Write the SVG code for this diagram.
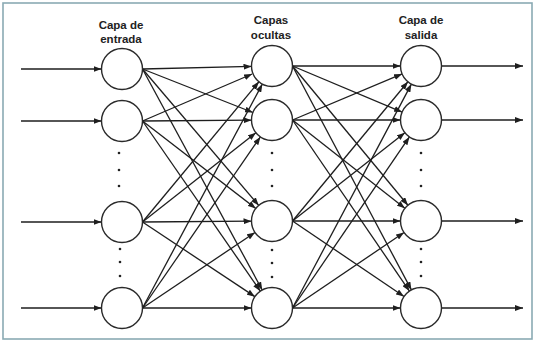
<svg xmlns="http://www.w3.org/2000/svg" width="535" height="343" viewBox="0 0 535 343">
<style>
.frame{fill:#ffffff;stroke:#8aaab3;stroke-width:1.6}
.node{fill:#ffffff;stroke:#2a2a2a;stroke-width:1.4}
.edge{fill:none;stroke:#1e1e1e;stroke-width:1.3;marker-end:url(#arr)}
.lbl{font-family:"Liberation Sans",Arial,sans-serif;font-weight:bold;font-size:11.5px;fill:#222;text-anchor:middle}
.dot{fill:#222}
</style>
<defs>
<marker id="arr" markerUnits="userSpaceOnUse" markerWidth="8" markerHeight="6" refX="8" refY="3" orient="auto">
<path d="M0,0 L8,3 L0,6 z" fill="#1e1e1e"/>
</marker>
</defs>
<rect class="frame" x="3" y="3" width="529" height="336"/>
<g id="labels">
<text class="lbl" x="121" y="29">Capa de</text>
<text class="lbl" x="121" y="43">entrada</text>
<text class="lbl" x="271" y="24">Capas</text>
<text class="lbl" x="271" y="39">ocultas</text>
<text class="lbl" x="421" y="24">Capa de</text>
<text class="lbl" x="421" y="39">salida</text>
</g>
<g id="connectors">
<path class="edge" d="M21,69 L101.5,69"/>
<path class="edge" d="M21,121 L101.5,121"/>
<path class="edge" d="M21,222 L101.5,222"/>
<path class="edge" d="M21,308 L101.5,308"/>
<path class="edge" d="M142.5,69 L251.51,66.47"/>
<path class="edge" d="M142.5,69 L252.93,112.49"/>
<path class="edge" d="M142.5,69 L258.71,205.40"/>
<path class="edge" d="M142.5,69 L262.23,289.98"/>
<path class="edge" d="M142.5,121 L252.13,74.01"/>
<path class="edge" d="M142.5,121 L251.5,120.16"/>
<path class="edge" d="M142.5,121 L255.77,208.47"/>
<path class="edge" d="M142.5,121 L260.33,291.15"/>
<path class="edge" d="M142.5,222 L258.91,81.77"/>
<path class="edge" d="M142.5,222 L255.90,132.68"/>
<path class="edge" d="M142.5,222 L251.5,221.16"/>
<path class="edge" d="M142.5,222 L254.92,296.66"/>
<path class="edge" d="M142.5,308 L262.33,84.07"/>
<path class="edge" d="M142.5,308 L260.37,136.88"/>
<path class="edge" d="M142.5,308 L254.98,232.43"/>
<path class="edge" d="M142.5,308 L251.5,308"/>
<path class="edge" d="M292.5,66 L400.5,66"/>
<path class="edge" d="M292.5,66 L402.10,112.06"/>
<path class="edge" d="M292.5,66 L407.92,205.22"/>
<path class="edge" d="M292.5,66 L411.39,289.89"/>
<path class="edge" d="M292.5,120 L402.10,73.94"/>
<path class="edge" d="M292.5,120 L400.5,120"/>
<path class="edge" d="M292.5,120 L404.88,208.33"/>
<path class="edge" d="M292.5,120 L409.43,291.08"/>
<path class="edge" d="M292.5,221 L407.92,81.78"/>
<path class="edge" d="M292.5,221 L404.88,132.67"/>
<path class="edge" d="M292.5,221 L400.5,221"/>
<path class="edge" d="M292.5,221 L404.02,296.51"/>
<path class="edge" d="M292.5,308 L411.39,84.11"/>
<path class="edge" d="M292.5,308 L409.43,136.92"/>
<path class="edge" d="M292.5,308 L404.02,232.49"/>
<path class="edge" d="M292.5,308 L400.5,308"/>
<path class="edge" d="M441.5,66 L523,66"/>
<path class="edge" d="M441.5,120 L523,120"/>
<path class="edge" d="M441.5,221 L523,221"/>
<path class="edge" d="M441.5,308 L523,308"/>
</g>
<g id="in1"><circle class="node" cx="122" cy="69" r="20.5"/></g>
<g id="in2"><circle class="node" cx="122" cy="121" r="20.5"/></g>
<g id="in3"><circle class="node" cx="122" cy="222" r="20.5"/></g>
<g id="in4"><circle class="node" cx="122" cy="308" r="20.5"/></g>
<g id="hid1"><circle class="node" cx="272" cy="66" r="20.5"/></g>
<g id="hid2"><circle class="node" cx="272" cy="120" r="20.5"/></g>
<g id="hid3"><circle class="node" cx="272" cy="221" r="20.5"/></g>
<g id="hid4"><circle class="node" cx="272" cy="308" r="20.5"/></g>
<g id="out1"><circle class="node" cx="421" cy="66" r="20.5"/></g>
<g id="out2"><circle class="node" cx="421" cy="120" r="20.5"/></g>
<g id="out3"><circle class="node" cx="421" cy="221" r="20.5"/></g>
<g id="out4"><circle class="node" cx="421" cy="308" r="20.5"/></g>
<g id="dots">
<circle class="dot" cx="119" cy="153" r="1.3"/>
<circle class="dot" cx="119" cy="170" r="1.3"/>
<circle class="dot" cx="119" cy="186" r="1.3"/>
<circle class="dot" cx="120" cy="249" r="1.3"/>
<circle class="dot" cx="120" cy="262" r="1.3"/>
<circle class="dot" cx="120" cy="276" r="1.3"/>
<circle class="dot" cx="272" cy="153" r="1.3"/>
<circle class="dot" cx="272" cy="170" r="1.3"/>
<circle class="dot" cx="272" cy="186" r="1.3"/>
<circle class="dot" cx="272" cy="250" r="1.3"/>
<circle class="dot" cx="272" cy="263" r="1.3"/>
<circle class="dot" cx="272" cy="277" r="1.3"/>
<circle class="dot" cx="421" cy="153" r="1.3"/>
<circle class="dot" cx="421" cy="170" r="1.3"/>
<circle class="dot" cx="421" cy="186" r="1.3"/>
<circle class="dot" cx="421" cy="249" r="1.3"/>
<circle class="dot" cx="421" cy="262" r="1.3"/>
<circle class="dot" cx="421" cy="276" r="1.3"/>
</g>
</svg>
